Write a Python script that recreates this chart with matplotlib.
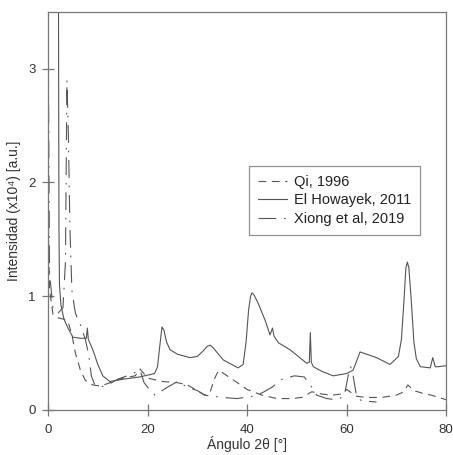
import matplotlib
matplotlib.use("Agg")
import matplotlib.pyplot as plt

plt.rcParams['font.family'] = ['Liberation Sans', 'DejaVu Sans']

# Qi, 1996 (discontinua)
qi_x = [0, 0.1, 0.3, 1.0, 2.0, 3.0, 4.0, 4.8, 5.5, 6.5, 7.5, 9, 10.5, 12.5, 15, 17.5, 18.5,
        20, 23, 26, 28, 30, 31.5, 32.5, 33.5, 34.3, 37, 40, 43, 46, 49, 51, 53, 55, 57,
        59, 60, 61, 62, 64, 67, 70, 71.5, 72.3, 73.5, 75, 77, 80]
qi_y = [3.6, 1.5, 1.06, 0.84, 0.81, 0.80, 0.78, 0.66, 0.50, 0.35, 0.26, 0.22, 0.21, 0.24, 0.28, 0.30, 0.36,
        0.28, 0.25, 0.24, 0.22, 0.17, 0.13, 0.15, 0.28, 0.35, 0.27, 0.18, 0.13, 0.10, 0.10, 0.11, 0.16, 0.14, 0.13,
        0.14, 0.18, 0.15, 0.12, 0.11, 0.11, 0.13, 0.16, 0.22, 0.17, 0.15, 0.13, 0.09]

# El Howayek, 2011 (continua)
eh_x = [2.1, 2.2, 2.3, 2.6, 3.2, 4.0, 5.0, 6.5, 7.7, 7.9, 8.1, 9.0, 10.0, 11.0, 12.4, 15, 18.4,
        21.4, 22.0, 22.5, 22.9, 23.3, 23.8, 24.5, 26, 28.5, 30, 31.2, 32.0, 32.6, 33.3, 35.2,
        38.2, 39.2, 39.8, 40.3, 40.7, 41.0, 41.4, 42.2, 43.6, 44.6, 45.1, 45.4, 46.3, 48.6,
        52.0, 52.5, 52.7, 52.9, 53.3, 55, 57.3, 60, 61.3, 62.7, 66, 68.7, 70.4, 71.0, 71.5,
        71.9, 72.2, 72.5, 73.0, 73.5, 74.0, 74.8, 76.8, 77.3, 77.8, 78.4, 80]
eh_y = [3.6, 1.6, 1.1, 0.92, 0.80, 0.72, 0.64, 0.63, 0.63, 0.72, 0.62, 0.53, 0.40, 0.30, 0.25, 0.27, 0.29,
        0.32, 0.38, 0.58, 0.73, 0.70, 0.60, 0.53, 0.49, 0.46, 0.47, 0.52, 0.56, 0.57, 0.54, 0.44,
        0.37, 0.40, 0.60, 0.88, 1.00, 1.03, 1.01, 0.94, 0.79, 0.66, 0.72, 0.65, 0.59, 0.53,
        0.41, 0.42, 0.68, 0.42, 0.38, 0.34, 0.30, 0.32, 0.35, 0.51, 0.46, 0.40, 0.47, 0.62, 0.95,
        1.25, 1.30, 1.25, 0.95, 0.60, 0.45, 0.38, 0.37, 0.46, 0.38, 0.38, 0.39]

# Xiong et al, 2019 (raya-punto)
xi_x = [0, 0.3, 1.0, 2.0, 3.0, 3.5, 3.8, 4.1, 4.4, 4.8, 5.5, 6.5, 7.5, 8.2, 8.7, 9.3, 10.3, 12,
        14, 16.5, 18.5, 19.3, 20, 21.5, 24, 26, 28, 30, 31.5, 35, 38, 41, 43, 45, 47, 49.5,
        51.5, 53, 54, 56, 58, 59.5, 60.3, 60.8, 61.3, 62, 63, 66]
xi_y = [3.6, 1.2, 0.90, 0.85, 0.90, 1.30, 2.90, 2.40, 1.60, 1.05, 0.85, 0.75, 0.62, 0.48, 0.30, 0.23, 0.20, 0.22,
        0.27, 0.31, 0.35, 0.24, 0.20, 0.13, 0.20, 0.25, 0.20, 0.17, 0.13, 0.11, 0.10, 0.12, 0.15, 0.20, 0.27, 0.30,
        0.29, 0.20, 0.13, 0.10, 0.09, 0.12, 0.30, 0.38, 0.30, 0.12, 0.08, 0.07]

fig = plt.figure(figsize=(4.53, 4.55), dpi=100)
ax = fig.add_axes([0.106, 0.099, 0.879, 0.875])

lc = '#555555'
ax.plot(qi_x, qi_y, color=lc, lw=0.8, dashes=(7, 5), label='Qi, 1996')
ax.plot(eh_x, eh_y, color=lc, lw=0.8, label='El Howayek, 2011')
ax.plot(xi_x, xi_y, color=lc, lw=0.8, dashes=(16, 7, 1.5, 7), label='Xiong et al, 2019')

ax.set_xlim(0, 80)
ax.set_ylim(0, 3.5)
ax.set_xticks([0, 20, 40, 60, 80])
ax.set_yticks([0, 1, 2, 3])

for s in ax.spines.values():
    s.set_color('#777777')
    s.set_linewidth(0.9)
ax.tick_params(direction='inout', length=8, width=0.9, color='#777777',
               labelsize=9.5, labelcolor='#333333')
ax.tick_params(axis='x', pad=6)
ax.tick_params(axis='y', pad=5)

ax.set_xlabel('Ángulo 2θ [°]', fontsize=10, color='#333333', labelpad=0)
ax.set_ylabel('Intensidad (x10⁴) [a.u.]', fontsize=10, color='#333333', labelpad=5)

leg = ax.legend(loc='upper left', bbox_to_anchor=(0.505, 0.612), fontsize=10.5,
                frameon=True, fancybox=False, handlelength=2.0, borderpad=0.6,
                labelspacing=0.3, handletextpad=0.5, borderaxespad=0)
leg.get_frame().set_edgecolor('#777777')
leg.get_frame().set_linewidth(0.9)
for t in leg.get_texts():
    t.set_color('#222222')

fig.savefig('out.png', dpi=100)
